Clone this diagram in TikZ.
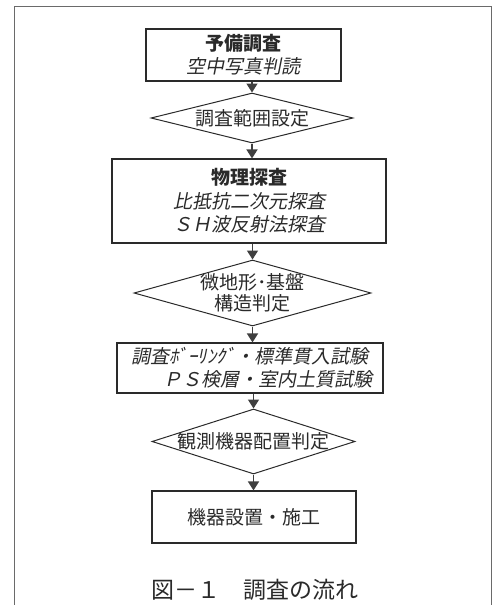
\documentclass[tikz,border=0pt]{standalone}
\usepackage{fontspec}
\newfontfamily\jp{Noto Sans CJK JP}
\newfontfamily\jpit[FakeSlant=0.2]{Noto Sans CJK JP}
\usetikzlibrary{shapes.geometric,arrows.meta}
\definecolor{ink}{HTML}{2A2A2A}
\definecolor{framec}{HTML}{6A6A6A}
\begin{document}
\begin{tikzpicture}[x=1pt,y=1pt,
  every node/.style={text=ink},
  box/.style={draw=ink,line width=1.1pt,rectangle,inner sep=0pt,align=center,
    font=\jp\fontsize{19}{23}\selectfont},
  dia/.style={draw=ink,line width=1pt,diamond,inner sep=0pt},
  dtext/.style={inner sep=0pt,align=center,font=\jp\fontsize{19}{21}\selectfont},
  flow/.style={draw=ink!90,line width=1.5pt,-{Triangle[length=9pt,width=11pt]}}]
\useasboundingbox (0,0) rectangle (496,-605);
\draw[framec,line width=0.8pt] (14,-6) rectangle (491,-620);
% boxes
\node[box,minimum width=195,minimum height=52] (b1) at (243.5,-55)
  {{\bfseries 予備調査}\\{\jpit 空中写真判読}};
\node[dia,minimum width=202,minimum height=50] (d1) at (252,-118) {};
\node[dtext] (d1t) at (d1.center) {調査範囲設定};
\node[box,minimum width=274,minimum height=84] (b2) at (249,-201)
  {{\bfseries 物理探査}\\[1pt]{\jpit 比抵抗二次元探査}\\{\jpit ＳＨ波反射法探査}};
\node[dia,minimum width=237,minimum height=66] (d2) at (252.5,-293) {};
\node[dtext] (d2t) at (d2.center) {微地形･基盤\\構造判定};
\node[box,minimum width=266,minimum height=50] (b3) at (250,-368)
  {{\jpit 調査ﾎﾞｰﾘﾝｸﾞ・標準貫入試験}\\{\jpit\hspace*{36pt}ＰＳ検層・室内土質試験}};
\node[dia,minimum width=203,minimum height=65] (d3) at (253.5,-441.5) {};
\node[dtext] (d3t) at (d3.center) {観測機器配置判定};
\node[box,minimum width=204,minimum height=52] (b4) at (254,-517) {機器設置・施工};
\node[font=\jp\fontsize{23}{25}\selectfont,inner sep=0pt] (cap) at (255,-590)
  {図－１　調査の流れ};
% connectors
\draw[flow] (d1.north |- b1.south) -- (d1.north);
\draw[flow] (d1.south) -- (d1.south |- b2.north);
\draw[flow] (d2.north |- b2.south) -- (d2.north);
\draw[flow] (d2.south) -- (d2.south |- b3.north);
\draw[flow] (d3.north |- b3.south) -- (d3.north);
\draw[flow] (d3.south) -- (d3.south |- b4.north);
\end{tikzpicture}
\end{document}
